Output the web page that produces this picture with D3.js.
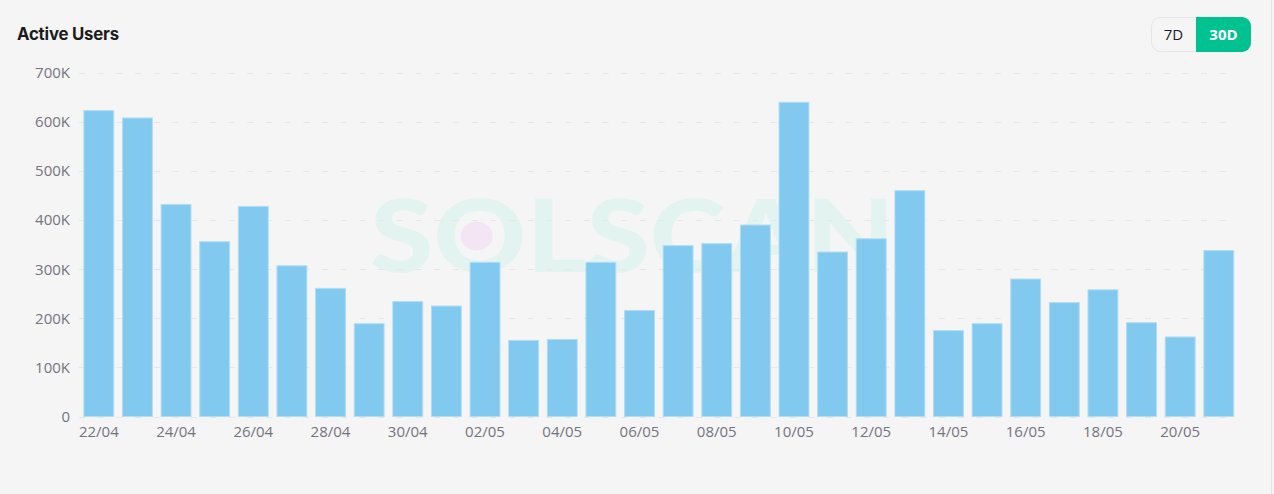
<!DOCTYPE html>
<html>
<head>
<meta charset="utf-8">
<script src="https://cdn.jsdelivr.net/npm/d3@7"></script>
<style>
  html, body { margin: 0; padding: 0; background: #f5f5f5; }
  svg { display: block; }
</style>
</head>
<body>
<svg id="chart" width="1274" height="494"></svg>
<script>
// ---- data ----
const dates = [
  "22/04","23/04","24/04","25/04","26/04","27/04","28/04","29/04","30/04",
  "01/05","02/05","03/05","04/05","05/05","06/05","07/05","08/05","09/05",
  "10/05","11/05","12/05","13/05","14/05","15/05","16/05","17/05","18/05",
  "19/05","20/05","21/05"
];
const activeUsers = [
  624000, 609000, 433000, 357000, 429000, 308000, 262000, 190000, 235000,
  226000, 315000, 156000, 158000, 315000, 217000, 349000, 353000, 391000,
  641000, 336000, 363000, 461000, 176000, 190000, 281000, 233000, 259000,
  192000, 163000, 339000
];
const yTicks = [0, 100000, 200000, 300000, 400000, 500000, 600000, 700000];
const xTickLabels = dates.filter((d, i) => i % 2 === 0);
const rangeButtons = ["7D", "30D"];
const activeRange = "30D";
const title = "Active Users";
const watermark = "SOLSCAN";

// ---- drawing ----
const W = 1274, H = 494;
const svg = d3.select("#chart");
const textColor = "#74747f";
const font = "'Open Sans', 'Segoe UI', sans-serif";

svg.append("rect").attr("width", W).attr("height", H).attr("fill", "#f5f5f5");
svg.append("line").attr("x1", 1271.5).attr("x2", 1271.5).attr("y1", 0).attr("y2", H)
  .attr("stroke", "#e4e4e4").attr("stroke-width", 1);

// title
svg.append("text").attr("x", 17).attr("y", 40)
  .attr("font-family", "Inter, 'Open Sans', sans-serif")
  .attr("font-size", 16.8).attr("font-weight", 700).attr("fill", "#1c1c1c")
  .attr("letter-spacing", "-0.2")
  .text(title);

// range buttons
const btn = svg.append("g");
const bx = 1151, by = 17, bw = 100, bh = 35, br = 9;
const defs = svg.append("defs");
defs.append("clipPath").attr("id", "btnClip")
  .append("rect").attr("x", bx).attr("y", by).attr("width", bw).attr("height", bh).attr("rx", br);
btn.append("rect").attr("x", bx + 0.5).attr("y", by + 0.5).attr("width", bw - 1).attr("height", bh - 1)
  .attr("rx", br).attr("fill", "#f5f5f5").attr("stroke", "#e6e6e6");
const segX = d3.scaleOrdinal().domain(rangeButtons).range([[bx, 45], [bx + 45, 55]]);
rangeButtons.forEach(r => {
  const [x0, w] = segX(r);
  if (r === activeRange) {
    btn.append("rect").attr("clip-path", "url(#btnClip)")
      .attr("x", x0).attr("y", by).attr("width", w).attr("height", bh).attr("fill", "#00c290");
  }
  btn.append("text").attr("x", x0 + w / 2).attr("y", by + bh / 2 + 5)
    .attr("text-anchor", "middle").attr("font-family", font)
    .attr("font-size", 15).attr("font-weight", r === activeRange ? 700 : 500)
    .attr("fill", r === activeRange ? "#ffffff" : "#1c1c2a")
    .text(r);
});

// scales
const x = d3.scaleBand().domain(dates).range([79.5, 1238.1]).paddingInner(0.2).paddingOuter(0.1);
const y = d3.scaleLinear().domain([0, 700000]).range([416.5, 72.8]);

defs.append("clipPath").attr("id", "plotClip")
  .append("rect").attr("x", 0).attr("y", 67.5).attr("width", W).attr("height", H - 67.5);
const plot = svg.append("g").attr("clip-path", "url(#plotClip)");

// watermark
const wm = plot.append("g");
wm.append("text").attr("x", 370).attr("y", 272)
  .attr("font-family", "Lato, 'Open Sans', sans-serif").attr("font-weight", 900)
  .attr("font-size", 101).attr("fill", "#e3f4f0")
  .attr("textLength", 525).attr("lengthAdjust", "spacingAndGlyphs")
  .text(watermark);
wm.append("ellipse").attr("cx", 476.7).attr("cy", 236).attr("rx", 16).attr("ry", 14.5)
  .attr("fill", "#f3e5f3");

// gridlines
plot.append("g").selectAll("line").data(yTicks).join("line")
  .attr("x1", 79).attr("x2", 1238)
  .attr("y1", d => Math.round(y(d)) + 0.5).attr("y2", d => Math.round(y(d)) + 0.5)
  .attr("stroke", "#e6e6e6").attr("stroke-width", 1)
  .attr("stroke-dasharray", "6,12.7");

// bars
plot.append("g").selectAll("rect").data(activeUsers).join("rect")
  .attr("x", (d, i) => x(dates[i]) + 0.5)
  .attr("y", d => y(d) + 0.5)
  .attr("width", x.bandwidth() - 1)
  .attr("height", d => y(0) - y(d) - 0.5)
  .attr("fill", "#81c9ef")
  .attr("stroke", "#b2ddf5").attr("stroke-width", 1);

// y axis
const yAxis = d3.axisLeft(y).tickValues(yTicks).tickSize(0).tickPadding(0)
  .tickFormat(d => d === 0 ? "0" : (d / 1000) + "K");
const gy = plot.append("g").attr("transform", "translate(70,0)").call(yAxis);
gy.select(".domain").remove();
gy.selectAll("text").attr("font-family", font).attr("font-size", 15).attr("fill", textColor);

// x axis
const xAxis = d3.axisBottom(x).tickValues(xTickLabels).tickSize(0).tickPadding(10);
const gx = plot.append("g").attr("transform", `translate(0,${y(0)})`).call(xAxis);
gx.select(".domain").remove();
gx.selectAll("text").attr("font-family", font).attr("font-size", 15).attr("fill", textColor);
</script>
</body>
</html>
